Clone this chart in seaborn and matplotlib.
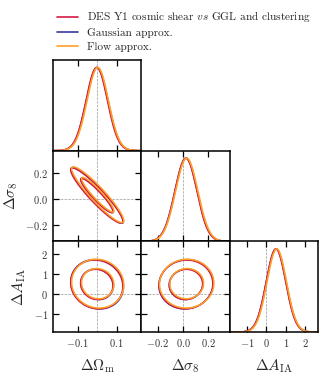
import numpy as np
import pandas as pd
import matplotlib
matplotlib.use("Agg")
import matplotlib.pyplot as plt
from matplotlib.lines import Line2D
import seaborn as sns

# ---------------- data ----------------
series = ["DES Y1 cosmic shear $vs$ GGL and clustering", "Gaussian approx.", "Flow approx."]
colors = ["#d41a45", "#3a3a9c", "#ffa126"]
draw_order = [1, 0, 2]
mean_om = [-0.002, 0.000, 0.003]
mean_s8 = [0.024, 0.025, 0.030]
mean_aia = [0.49, 0.50, 0.53]
sig_om = [0.055, 0.0555, 0.055]
sig_s8 = [0.087, 0.088, 0.088]
sig_aia = [0.50, 0.505, 0.50]
rho_om_s8 = [-0.93, -0.935, -0.93]
rho_om_aia = [-0.08, -0.10, -0.06]
rho_s8_aia = [0.03, 0.05, 0.02]

par_labels = [r"$\Delta\Omega_{\rm m}$", r"$\Delta\sigma_8$", r"$\Delta A_{\rm IA}$"]
par_limits = [(-0.228, 0.228), (-0.33, 0.37), (-1.9, 2.65)]
par_ticks = [[-0.1, 0.1], [-0.2, 0.0, 0.2], [-1, 0, 1, 2]]
par_ticklabels = [[r"$-0.1$", r"$0.1$"], [r"$-0.2$", r"$0.0$", r"$0.2$"],
                  [r"$-1$", r"$0$", r"$1$", r"$2$"]]
chi2_levels = [5.99, 2.30]   # 95% and 68% 2D contours

# ---------------- style ----------------
sns.set_theme(style="ticks")
plt.rcParams.update({
    "font.family": "serif",
    "font.serif": ["cmr10", "DejaVu Serif"],
    "mathtext.fontset": "cm",
    "axes.formatter.use_mathtext": True,
    "axes.linewidth": 1.1,
})

W, H = 326, 376
fig = plt.figure(figsize=(W / 100, H / 100), dpi=100)
left_px, top_px = 53, 60
cw, rh = 88.3, 90.7

means = [mean_om, mean_s8, mean_aia]
sigs = [sig_om, sig_s8, sig_aia]
palette = {series[k]: colors[k] for k in range(3)}
hue_order = [series[k] for k in draw_order]


def corr(k, a, b):
    if a == b:
        return 1.0
    pair = tuple(sorted((a, b)))
    return {(0, 1): rho_om_s8, (0, 2): rho_om_aia, (1, 2): rho_s8_aia}[pair][k]


for i in range(3):
    for j in range(i + 1):
        ax = fig.add_axes([(left_px + j * cw) / W, 1 - (top_px + (i + 1) * rh) / H,
                           cw / W, rh / H])
        if i == j:
            rows = []
            xs = np.linspace(*par_limits[j], 300)
            for k, name in enumerate(series):
                ys = np.exp(-0.5 * ((xs - means[j][k]) / sigs[j][k]) ** 2)
                rows.append(pd.DataFrame({"x": xs, "y": ys, "series": name}))
            df = pd.concat(rows, ignore_index=True)
            sns.lineplot(data=df, x="x", y="y", hue="series", palette=palette,
                         hue_order=hue_order, legend=False, ax=ax, lw=1.2,
                         estimator=None, sort=False)
            ax.set_ylim(0, 1.09)
            ax.set_yticks([])
            ax.set_ylabel("")
            ax.axvline(0, color="0.6", ls="--", lw=0.5, zorder=0)
        else:
            xs = np.linspace(*par_limits[j], 220)
            ys = np.linspace(*par_limits[i], 220)
            X, Y = np.meshgrid(xs, ys)
            for k in draw_order:
                sx, sy = sigs[j][k], sigs[i][k]
                r = corr(k, i, j)
                dx = (X - means[j][k]) / sx
                dy = (Y - means[i][k]) / sy
                q = (dx ** 2 - 2 * r * dx * dy + dy ** 2) / (1 - r ** 2)
                Z = np.exp(-0.5 * q)
                lv = sorted(np.exp(-0.5 * np.array(chi2_levels)))
                ax.contour(X, Y, Z, levels=lv, colors=[colors[k]], linewidths=1.1)
            ax.axvline(0, color="0.6", ls="--", lw=0.5, zorder=0)
            ax.axhline(0, color="0.6", ls="--", lw=0.5, zorder=0)
            ax.set_ylim(*par_limits[i])
            ax.set_yticks(par_ticks[i])
            if j == 0:
                ax.set_yticklabels(par_ticklabels[i])
                ax.set_ylabel(par_labels[i], fontsize=11, labelpad=4)
            else:
                ax.set_yticklabels([])
        ax.set_xlim(*par_limits[j])
        ax.set_xticks(par_ticks[j])
        if i == 2:
            ax.set_xticklabels(par_ticklabels[j])
            ax.set_xlabel(par_labels[j], fontsize=11, labelpad=6)
        else:
            ax.set_xticklabels([])
            ax.set_xlabel("")
        ax.tick_params(direction="in", top=True, right=(i != j), length=4, width=0.9,
                       labelsize=7.5, colors="black", labelcolor="#333333")
        ax.set_facecolor("white")
        for s in ax.spines.values():
            s.set_color("black")

handles = [Line2D([], [], color=c, lw=1.2) for c in colors]
fig.legend(handles, series, loc="upper left", bbox_to_anchor=(52 / W, 1 - 5 / H),
           frameon=False, fontsize=8.1, handlelength=1.9, labelspacing=0.32,
           handletextpad=0.8, borderaxespad=0)

fig.savefig("out.png", dpi=100, facecolor="white")
